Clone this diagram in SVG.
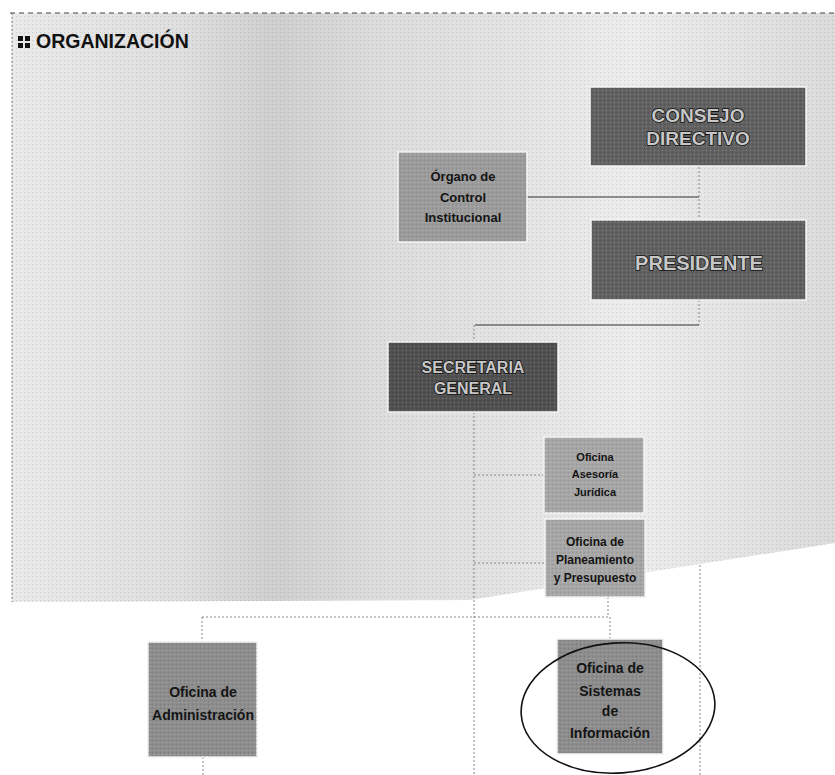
<svg xmlns="http://www.w3.org/2000/svg" width="835" height="775" viewBox="0 0 835 775">
  <defs>
    <linearGradient id="bg" x1="0" y1="0" x2="1" y2="0">
      <stop offset="0" stop-color="#e9e9e9"/>
      <stop offset="0.2" stop-color="#dedede"/>
      <stop offset="0.32" stop-color="#cecece"/>
      <stop offset="0.45" stop-color="#dcdcdc"/>
      <stop offset="0.6" stop-color="#e2e2e2"/>
      <stop offset="0.75" stop-color="#ececec"/>
      <stop offset="1" stop-color="#dadada"/>
    </linearGradient>
    <pattern id="dots" width="4" height="4" patternUnits="userSpaceOnUse">
      <rect x="0" y="0" width="1" height="1" fill="#000" fill-opacity="0.12"/>
      <rect x="2" y="2" width="1" height="1" fill="#fff" fill-opacity="0.25"/>
    </pattern>
  </defs>
  <style>
    .box { stroke: #f4f4f4; stroke-width: 1.5; }
    .dark { fill: #606060; }
    .darker { fill: #505050; }
    .mid { fill: #9b9b9b; }
    .light { fill: #a6a6a6; }
    .admin { fill: #8c8c8c; }
    .big { font-family: "Liberation Sans", Arial, sans-serif; font-weight: bold; fill: #c8c8c8; stroke: #111; stroke-width: 1.6; paint-order: stroke; text-anchor: middle; }
    .lbl { font-family: "Liberation Sans", Arial, sans-serif; font-weight: bold; fill: #141414; text-anchor: middle; }
    .conn line { stroke: #333; stroke-width: 1.2; }
    .conn .faint { stroke: #888; stroke-width: 1; stroke-dasharray: 2 2; }
  </style>

  <rect x="0" y="0" width="835" height="775" fill="#ffffff"/>
  <polygon points="12,13 835,13 835,543 470,600 12,602" fill="url(#bg)"/>
  <polygon points="12,13 835,13 835,543 470,600 12,602" fill="url(#dots)"/>
  <line x1="10" y1="13" x2="835" y2="13" stroke="#444" stroke-width="1.2" stroke-dasharray="5 4"/>
  <line x1="12" y1="13" x2="12" y2="602" stroke="#777" stroke-width="1" stroke-dasharray="2 2"/>

  <g id="title">
    <rect x="18" y="36" width="5" height="5" fill="#111"/>
    <rect x="25" y="36" width="5" height="5" fill="#111"/>
    <rect x="18" y="43" width="5" height="5" fill="#111"/>
    <rect x="25" y="43" width="5" height="5" fill="#111"/>
    <text x="36" y="48" font-family="Liberation Sans, Arial, sans-serif" font-weight="bold" font-size="19.5" fill="#111">ORGANIZACIÓN</text>
  </g>

  <g id="connectors" class="conn">
    <line x1="527" y1="197" x2="699" y2="197"/>
    <line class="faint" x1="699" y1="167" x2="699" y2="220"/>
    <line class="faint" x1="699" y1="300" x2="699" y2="325"/>
    <line x1="475" y1="325" x2="699" y2="325"/>
    <line class="faint" x1="474" y1="325" x2="474" y2="342"/>
    <line class="faint" x1="474" y1="412" x2="474" y2="775"/>
    <line class="faint" x1="474" y1="475" x2="544" y2="475"/>
    <line class="faint" x1="474" y1="563" x2="545" y2="563"/>
    <line class="faint" x1="608" y1="597" x2="608" y2="617"/>
    <line class="faint" x1="202" y1="617" x2="610" y2="617"/>
    <line class="faint" x1="202" y1="617" x2="202" y2="642"/>
    <line class="faint" x1="610" y1="617" x2="610" y2="639"/>
    <line class="faint" x1="700" y1="565" x2="700" y2="775"/>
    <line class="faint" x1="203" y1="757" x2="203" y2="775"/>
  </g>

  <g id="consejo">
    <rect class="box dark" x="590" y="87" width="216" height="79"/>
    <rect x="590" y="87" width="216" height="79" fill="url(#dots)"/>
    <text class="big" x="698" y="122" font-size="19">CONSEJO</text>
    <text class="big" x="698" y="145" font-size="19">DIRECTIVO</text>
  </g>

  <g id="organo">
    <rect class="box mid" x="398" y="152" width="129" height="90"/>
    <rect x="398" y="152" width="129" height="90" fill="url(#dots)"/>
    <text class="lbl" x="463" y="181" font-size="13">Órgano de</text>
    <text class="lbl" x="463" y="202" font-size="13">Control</text>
    <text class="lbl" x="463" y="222" font-size="13">Institucional</text>
  </g>

  <g id="presidente">
    <rect class="box dark" x="591" y="220" width="215" height="80"/>
    <rect x="591" y="220" width="215" height="80" fill="url(#dots)"/>
    <text class="big" x="699" y="270" font-size="20">PRESIDENTE</text>
  </g>

  <g id="secretaria">
    <rect class="box darker" x="388" y="342" width="170" height="70"/>
    <rect x="388" y="342" width="170" height="70" fill="url(#dots)"/>
    <text class="big" x="473" y="373" font-size="16">SECRETARIA</text>
    <text class="big" x="473" y="394" font-size="16">GENERAL</text>
  </g>

  <g id="asesoria">
    <rect class="box light" x="544" y="437" width="100" height="76"/>
    <rect x="544" y="437" width="100" height="76" fill="url(#dots)"/>
    <text class="lbl" x="595" y="461" font-size="11">Oficina</text>
    <text class="lbl" x="595" y="478" font-size="11">Asesoría</text>
    <text class="lbl" x="595" y="496" font-size="11">Jurídica</text>
  </g>

  <g id="planeamiento">
    <rect class="box light" x="545" y="519" width="100" height="78"/>
    <rect x="545" y="519" width="100" height="78" fill="url(#dots)"/>
    <text class="lbl" x="595" y="546" font-size="12">Oficina de</text>
    <text class="lbl" x="595" y="564" font-size="12">Planeamiento</text>
    <text class="lbl" x="595" y="582" font-size="12">y Presupuesto</text>
  </g>

  <g id="administracion">
    <rect class="box admin" x="148" y="642" width="109" height="115"/>
    <rect x="148" y="642" width="109" height="115" fill="url(#dots)"/>
    <text class="lbl" x="203" y="697" font-size="14">Oficina de</text>
    <text class="lbl" x="203" y="720" font-size="14">Administración</text>
  </g>

  <g id="sistemas">
    <rect class="box admin" x="557" y="639" width="106" height="115"/>
    <rect x="557" y="639" width="106" height="115" fill="url(#dots)"/>
    <text class="lbl" x="610" y="673" font-size="14">Oficina de</text>
    <text class="lbl" x="610" y="696" font-size="14">Sistemas</text>
    <text class="lbl" x="610" y="716" font-size="14">de</text>
    <text class="lbl" x="610" y="738" font-size="14">Información</text>
    <ellipse cx="618" cy="708" rx="97" ry="65" fill="none" stroke="#111" stroke-width="1.6" transform="rotate(-4 618 708)"/>
  </g>
</svg>
